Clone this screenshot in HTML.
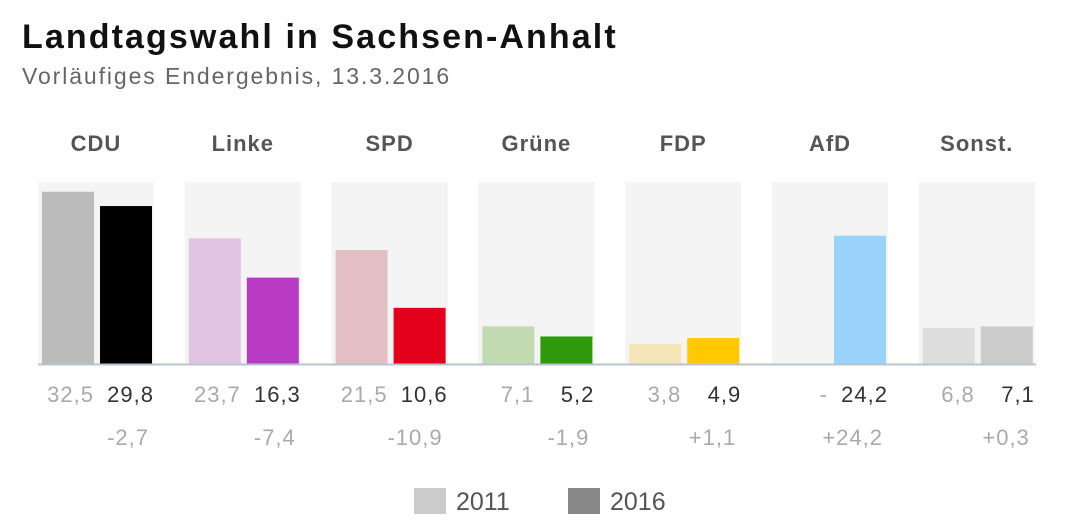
<!DOCTYPE html>
<html><head><meta charset="utf-8"><style>
body{margin:0;background:#fff;font-family:"Liberation Sans",sans-serif;}
#wrap{position:relative;width:1078px;height:530px;overflow:hidden;}
.t{position:absolute;white-space:nowrap;}
</style></head><body>
<div id="wrap">
<div class="t" style="left:22px;top:18px;font-size:34px;letter-spacing:2.1px;font-weight:bold;color:#111;">Landtagswahl in Sachsen-Anhalt</div>
<div class="t" style="left:22px;top:63px;font-size:23px;letter-spacing:1.9px;color:#666;">Vorläufiges Endergebnis, 13.3.2016</div>
<svg id="svg" width="1078" height="530" style="position:absolute;left:0;top:0"></svg>
</div>
<script>
const parties=["CDU","Linke","SPD","Grüne","FDP","AfD","Sonst."];
const v2011=[32.5,23.7,21.5,7.1,3.8,null,6.8];
const v2016=[29.8,16.3,10.6,5.2,4.9,24.2,7.1];
const diffs=["-2,7","-7,4","-10,9","-1,9","+1,1","+24,2","+0,3"];
const c2011=["#bbbbbb","#e2c2e3","#e3bec4","#c2dab2","#f5e6b8","#ffffff","#dddddd"];
const c2016=["#000000","#b83ac4","#e2001a","#2f9a0b","#ffc800","#99d2fa","#cccccc"];
const ns="http://www.w3.org/2000/svg",svg=document.getElementById('svg');
const base=364,scale=5.3,px0=38,pstep=146.8,pw=116;
const y=v=>base-v*scale;
const fmt=v=>v==null?"-":v.toFixed(1).replace('.',',');
function mk(tag,at){const e=document.createElementNS(ns,tag);for(const k in at)e.setAttribute(k,at[k]);svg.appendChild(e);return e;}
parties.forEach((p,i)=>{
 const x=px0+i*pstep;
 const bg=mk('rect',{x:x,y:182,width:pw,height:base-182,fill:'#f4f4f4'});
 
 
 const nm=mk('text',{x:x+pw/2,y:151,'text-anchor':'middle','font-size':22,'letter-spacing':1,'font-weight':'bold',fill:'#555'});nm.textContent=p;
 
 
 if(v2011[i]!=null){const b=mk('rect',{x:x+4,y:y(v2011[i]),width:52,height:base-y(v2011[i]),fill:c2011[i]});
  
  }
 const b2=mk('rect',{x:x+62,y:y(v2016[i]),width:52,height:base-y(v2016[i]),fill:c2016[i]});
 
 
 const t1=mk('text',{x:x+56,y:402,'text-anchor':'end','font-size':22,'letter-spacing':1,fill:'#aaa'});t1.textContent=fmt(v2011[i]);
 
 
 const t2=mk('text',{x:x+116,y:402,'text-anchor':'end','font-size':22,'letter-spacing':1,fill:'#333'});t2.textContent=fmt(v2016[i]);
 
 
 const t3=mk('text',{x:x+111,y:445,'text-anchor':'end','font-size':22,'letter-spacing':1,fill:'#aaa'});t3.textContent=diffs[i];
 
 
});
const ax=mk('line',{x1:38,x2:1036,y1:base+0.5,y2:base+0.5,stroke:'#b8c4d0','stroke-width':2});


[[414,'#cccccc','2011'],[568,'#888888','2016']].forEach(([lx,c,l])=>{
 const r=mk('rect',{x:lx,y:488,width:32,height:26,fill:c});
 
 
 const t=mk('text',{x:lx+42,y:510,'font-size':25,fill:'#555'});t.textContent=l;
 
 
});
</script>
</body></html>
